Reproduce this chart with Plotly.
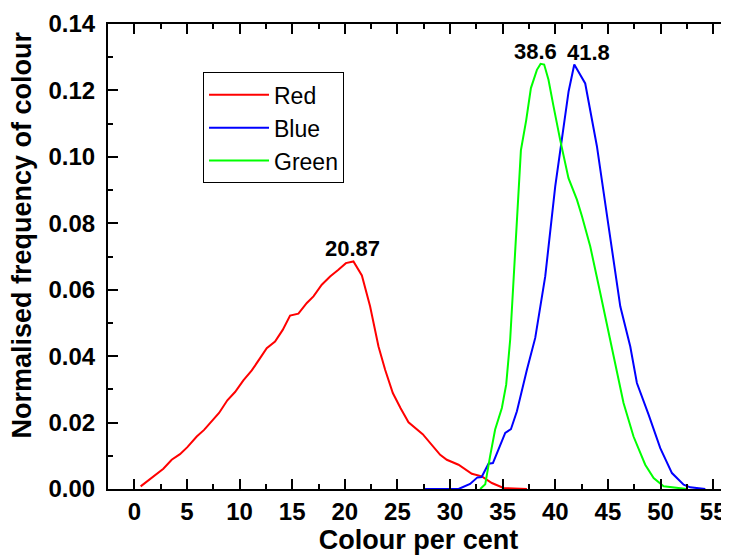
import plotly.graph_objects as go

red_x = [0.6, 1.5, 2.1, 2.76, 3.55, 4.34, 5.04, 5.93, 6.63, 7.35, 8.05, 8.84, 9.57, 10.36, 11.16,
         11.95, 12.58, 13.37, 14.1, 14.8, 15.59, 16.39, 17.02, 17.81, 18.6, 19.39, 20.1, 20.82,
         21.62, 22.4, 23.2, 23.83, 24.56, 25.3, 26.05, 27.4, 29.06, 29.69, 30.8, 32.07, 33.02,
         33.97, 35.08, 37.3]
red_y = [0.0008, 0.003, 0.0045, 0.0061, 0.0088, 0.0105, 0.0126, 0.0158, 0.0178, 0.0203, 0.0229,
         0.0267, 0.0292, 0.0327, 0.0357, 0.0394, 0.0424, 0.0444, 0.0479, 0.0522, 0.0528, 0.056,
         0.058, 0.0615, 0.064, 0.066, 0.068, 0.0685, 0.0643, 0.055, 0.0429, 0.0359, 0.0289,
         0.0243, 0.0201, 0.0165, 0.0103, 0.0088, 0.0073, 0.0046, 0.0038, 0.0018, 0.0003, 0.0]

blue_x = [27.47, 30.8, 31.9, 32.6, 33.0, 33.65, 34.07, 35.24, 35.78, 36.35, 37.3, 38.09, 39.04,
          39.99, 41.26, 41.8, 42.84, 43.95, 45.06, 46.17, 47.12, 47.75, 48.86, 49.97, 51.08,
          52.19, 52.82, 54.25]
blue_y = [0.0, 0.0, 0.0015, 0.0035, 0.0036, 0.0076, 0.0078, 0.0169, 0.018, 0.0234, 0.0359,
          0.0455, 0.064, 0.0911, 0.1197, 0.1278, 0.1221, 0.1032, 0.0791, 0.055, 0.0429, 0.0319,
          0.0224, 0.0123, 0.0048, 0.0013, 0.0005, 0.0]

green_x = [32.86, 33.34, 33.8, 34.28, 34.92, 35.33, 35.71, 36.03, 36.35, 36.73, 37.23, 37.68,
           38.25, 38.6, 38.94, 39.35, 39.83, 40.46, 41.25, 42.05, 42.53, 43.32, 44.27, 45.38,
           46.48, 47.43, 48.54, 49.34, 50.29, 52.51]
green_y = [0.0, 0.0014, 0.0098, 0.0179, 0.0244, 0.0314, 0.045, 0.062, 0.081, 0.102, 0.111,
           0.1207, 0.1262, 0.128, 0.1278, 0.1232, 0.1152, 0.1051, 0.0936, 0.0871, 0.0821,
           0.073, 0.059, 0.0429, 0.0259, 0.0158, 0.0073, 0.0033, 0.0008, 0.0]

peak_x = [20.87, 38.6, 41.8]
peak_y = [0.0685, 0.128, 0.1278]
peak_text = ["20.87", "38.6", "41.8"]

x_ticks = list(range(0, 56, 5))
y_ticks = [0.0, 0.02, 0.04, 0.06, 0.08, 0.10, 0.12, 0.14]
y_tick_text = ["0.00", "0.02", "0.04", "0.06", "0.08", "0.10", "0.12", "0.14"]

FONT = "Liberation Sans, Arial, sans-serif"

fig = go.Figure()
fig.add_trace(go.Scatter(x=red_x, y=red_y, mode="lines", name="Red",
                         line=dict(color="#FF0000", width=2)))
fig.add_trace(go.Scatter(x=blue_x, y=blue_y, mode="lines", name="Blue",
                         line=dict(color="#0000FF", width=2)))
fig.add_trace(go.Scatter(x=green_x, y=green_y, mode="lines", name="Green",
                         line=dict(color="#00FF00", width=2)))

for px, py, t, dx in zip(peak_x, peak_y, peak_text, [-1, -5, 14]):
    fig.add_annotation(x=px, y=py, text=f"<b>{t}</b>", showarrow=False,
                       yanchor="bottom", xshift=dx, yshift=-2,
                       font=dict(family=FONT, size=22, color="black"))

# y-axis title (placed slightly above the plot centre, as in the reference)
fig.add_annotation(xref="paper", yref="paper", x=-0.1377, y=0.546,
                   text="<b>Normalised frequency of colour</b>", textangle=-90,
                   showarrow=False, xanchor="center", yanchor="middle",
                   font=dict(family=FONT, size=27, color="black"))

# the page body adds an 8px offset, so the figure is 8px smaller than the window
fig.update_layout(
    width=721, height=548,
    margin=dict(l=100, r=0, t=16, b=67),
    paper_bgcolor="white", plot_bgcolor="white",
    font=dict(family=FONT, color="black"),
    legend=dict(x=0.153, y=0.896, xanchor="left", yanchor="top",
                bordercolor="black", borderwidth=1, bgcolor="white",
                font=dict(family=FONT, size=23), tracegroupgap=0,
                itemwidth=60),
    xaxis=dict(range=[-2.5, 56.5], tickvals=x_ticks, showgrid=False, zeroline=False,
               automargin=False,
               showline=True, linecolor="black", linewidth=2, mirror="ticks",
               ticks="inside", ticklen=10, tickwidth=1.5, tickcolor="black",
               minor=dict(ticks="inside", ticklen=5, tickwidth=1.5, dtick=2.5,
                          tickcolor="black"),
               tickfont=dict(family=FONT, size=24, weight="bold"),
               title=dict(text="<b>Colour per cent</b>", font=dict(family=FONT, size=27),
                          standoff=4)),
    yaxis=dict(range=[0, 0.14], tickvals=y_ticks, ticktext=y_tick_text, showgrid=False,
               zeroline=False, showline=True, linecolor="black", linewidth=2, mirror=False,
               automargin=False,
               ticks="inside", ticklen=10, tickwidth=1.5, tickcolor="black",
               minor=dict(ticks="inside", ticklen=5, tickwidth=1.5, dtick=0.01,
                          tickcolor="black"),
               tickfont=dict(family=FONT, size=24, weight="bold"),
               ticklabelstandoff=6),
)

fig.write_html("out.html")
